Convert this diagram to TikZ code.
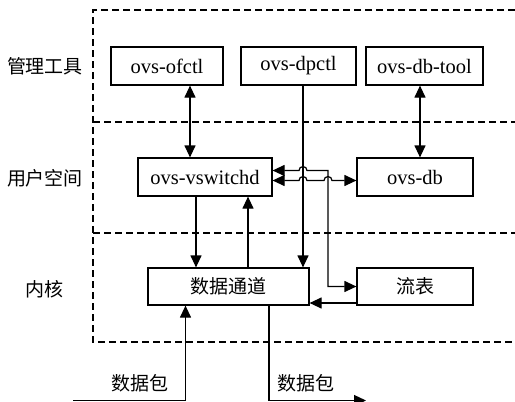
\documentclass[tikz,border=0pt]{standalone}
\usepackage{fontspec}
\setmainfont{Liberation Serif}
\newfontfamily\cjk{Noto Sans CJK SC}
\usetikzlibrary{arrows.meta}
\begin{document}
\begin{tikzpicture}[x=1pt,y=1pt,
  box/.style={draw,line width=1.2pt,minimum height=38pt,inner sep=0pt,font=\fontsize{20.5}{22}\selectfont},
  cbox/.style={box,minimum height=37pt,font=\cjk\fontsize{19}{21}\selectfont},
  layer/.style={dashed,line width=1.2pt,dash pattern=on 7pt off 4pt},
  conn/.style={line width=1.2pt,-{Triangle[length=12pt,width=11pt]}},
  bconn/.style={line width=1.2pt,{Triangle[length=12pt,width=11pt]}-{Triangle[length=12pt,width=11pt]}},
  lbl/.style={font=\cjk\fontsize{19}{21}\selectfont,inner sep=0pt}]
\useasboundingbox (0,0) rectangle (515,-402);

% layer boundaries
\draw[layer] (515,-10) -- (93,-10) -- (93,-342) -- (515,-342);
\draw[layer] (93,-122) -- (515,-122);
\draw[layer] (93,-233) -- (515,-233);

% layer names
\node[lbl] (lmgmt) at (45,-66) {管理工具};
\node[lbl] (luser) at (45,-178) {用户空间};
\node[lbl] (lkern) at (45,-289) {内核};

% components
\node[box,minimum width=112pt] (ofctl) at (167,-66) {ovs-ofctl};
\node[box,minimum width=115pt] (dpctl) at (298.5,-66) {ovs-dpctl};
\node[box,minimum width=117pt] (dbtool) at (424.5,-66) {ovs-db-tool};
\node[box,minimum width=134pt] (vsd) at (205,-177) {ovs-vswitchd};
\node[box,minimum width=116pt] (ovsdb) at (415,-177) {ovs-db};
\node[cbox,minimum width=161pt] (dp) at (228.5,-286.5) {数据通道};
\node[cbox,minimum width=116pt] (flow) at (415,-286.5) {流表};

% helper columns and rows
\coordinate (xa) at (190,0);
\coordinate (xb) at (420,0);
\coordinate (xc) at (196,0);
\coordinate (xd) at (248,0);
\coordinate (xe) at (303,0);
\coordinate (xf) at (328,0);
\coordinate (xin) at (185.5,0);
\coordinate (xout) at (269,0);
\coordinate (yu) at (0,-170.5);
\coordinate (yl) at (0,-180.5);
\coordinate (yr) at (0,-303);
\coordinate (ybot) at (0,-400.5);

% connectors
\draw[bconn] (ofctl.south -| xa) -- (vsd.north -| xa);
\draw[bconn] (dbtool.south -| xb) -- (ovsdb.north -| xb);
\draw[conn] (vsd.south -| xc) -- (dp.north -| xc);
\draw[conn] (dp.north -| xd) -- (vsd.south -| xd);
\draw[conn] (dpctl.south -| xe) -- (dp.north -| xe);

% vswitchd <-> flow table, hopping over the dpctl line
\draw[bconn] (vsd.east |- yu) -- ([xshift=-4pt]xe |- yu) arc (180:0:4pt)
  -- (xf |- yu) -- (xf |- flow.west) -- (flow.west);
% vswitchd <-> ovs-db, hopping over two lines
\draw[bconn] (vsd.east |- yl) -- ([xshift=-4pt]xe |- yl) arc (180:0:4pt)
  -- ([xshift=-4pt]xf |- yl) arc (180:0:4pt) -- (ovsdb.west |- yl);

% flow table -> datapath
\draw[conn] (flow.west |- yr) -- (dp.east |- yr);

% packets in and out
\coordinate (pin) at (73,-400.5);
\coordinate (pout) at (366,-400.5);
\draw[conn] (pin) -- (xin |- ybot) -- (dp.south -| xin);
\draw[conn] (dp.south -| xout) -- (xout |- ybot) -- (pout);
\node[lbl] (pkin) at (140,-383) {数据包};
\node[lbl] (pkout) at (306,-383) {数据包};
\end{tikzpicture}
\end{document}
